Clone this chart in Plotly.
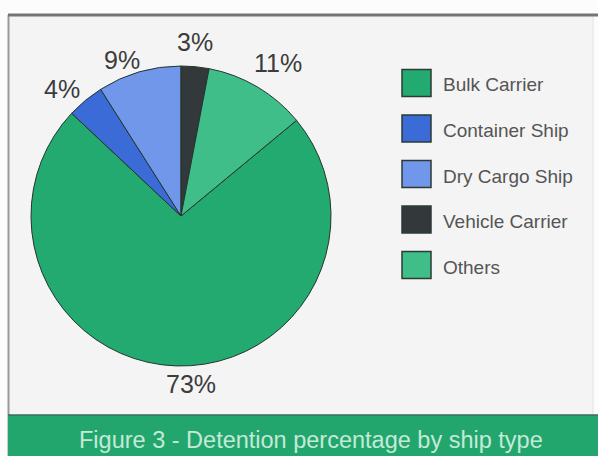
import plotly.graph_objects as go

# Detention share by ship type (percent)
ship_types = ["Bulk Carrier", "Container Ship", "Dry Cargo Ship", "Vehicle Carrier", "Others"]
shares = [73, 4, 9, 3, 11]
colors = ["#22aa70", "#3a6bd6", "#7097ea", "#33383a", "#40be8a"]

caption = "Figure 3 - Detention percentage by ship type"

# Pixel centres of the percentage labels around the pie, one per ship type
label_centres = [(191, 384), (62, 89), (122, 60), (195, 42), (278, 63)]

W, H = 598, 456
FONT = "Liberation Sans, Arial, sans-serif"


def px_x(x):
    return x / W


def px_y(y):
    return 1 - y / H


# Start the first slice so that the last two slices end at 12 o'clock
rotation = 360 * (shares[3] + shares[4]) / sum(shares)

fig = go.Figure(
    go.Pie(
        labels=ship_types,
        values=shares,
        sort=False,
        direction="clockwise",
        rotation=rotation,
        marker=dict(colors=colors, line=dict(color="#24352d", width=1)),
        textinfo="none",
        showlegend=False,
        hoverinfo="label+percent",
        domain=dict(x=[px_x(31), px_x(331)], y=[px_y(366), px_y(66)]),
    )
)

shapes = [
    # panel background
    dict(type="rect", xref="paper", yref="paper", layer="below",
         x0=px_x(8), x1=px_x(593), y0=px_y(415), y1=px_y(15),
         fillcolor="#f4f4f4", line=dict(width=0)),
    # left and right panel edges
    dict(type="line", xref="paper", yref="paper", layer="below",
         x0=px_x(8.5), x1=px_x(8.5), y0=px_y(456), y1=px_y(15),
         line=dict(color="#9a9a9a", width=2)),
    dict(type="line", xref="paper", yref="paper", layer="below",
         x0=px_x(593), x1=px_x(593), y0=px_y(415), y1=px_y(15),
         line=dict(color="#e2e2e2", width=1)),
    # top rule
    dict(type="line", xref="paper", yref="paper", layer="below",
         x0=px_x(8), x1=1, y0=px_y(15), y1=px_y(15),
         line=dict(color="#747474", width=3)),
    # caption band
    dict(type="rect", xref="paper", yref="paper", layer="below",
         x0=px_x(8), x1=1, y0=0, y1=px_y(415),
         fillcolor="#22a66e", line=dict(width=0)),
    dict(type="line", xref="paper", yref="paper", layer="below",
         x0=px_x(8), x1=1, y0=px_y(415), y1=px_y(415),
         line=dict(color="#3d6e58", width=1.5)),
]

annotations = [
    dict(text=caption, xref="paper", yref="paper", x=px_x(311), y=px_y(440),
         xanchor="center", yanchor="middle", showarrow=False,
         font=dict(family=FONT, size=23.5, color="#c4ead7")),
]

# Percentage labels, written from the same values as the slices
total = sum(shares)
for v, (cx, cy) in zip(shares, label_centres):
    annotations.append(dict(text=f"{round(100 * v / total)}%", xref="paper", yref="paper",
                            x=px_x(cx), y=px_y(cy), xanchor="center", yanchor="middle",
                            showarrow=False,
                            font=dict(family=FONT, size=25, color="#3c3c3c")))

# Legend: swatch + label for each ship type
leg_x0, leg_x1 = 402, 431
leg_y_first, leg_step = 83, 45.5
for i, (name, col) in enumerate(zip(ship_types, colors)):
    cy = leg_y_first + i * leg_step
    shapes.append(dict(type="rect", xref="paper", yref="paper",
                       x0=px_x(leg_x0), x1=px_x(leg_x1),
                       y0=px_y(cy + 13.5), y1=px_y(cy - 13.5),
                       fillcolor=col, line=dict(color="#2c3a34", width=1.5)))
    annotations.append(dict(text=name, xref="paper", yref="paper",
                            x=px_x(441), y=px_y(cy + 2), xanchor="left", yanchor="middle",
                            showarrow=False,
                            font=dict(family=FONT, size=19, color="#555555")))

fig.update_layout(
    width=W, height=H,
    margin=dict(l=0, r=0, t=0, b=0),
    paper_bgcolor="#fcfcfc",
    plot_bgcolor="#fcfcfc",
    shapes=shapes,
    annotations=annotations,
)

fig.write_html("out.html")
